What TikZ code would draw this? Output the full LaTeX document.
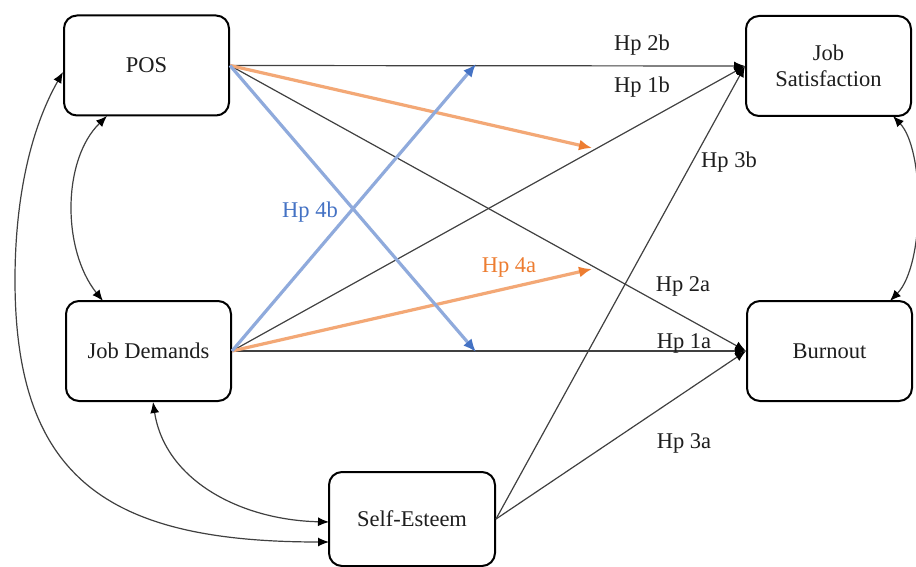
\documentclass[tikz,border=0pt]{standalone}
\usepackage{fontspec}
\setmainfont{Liberation Serif}
\newfontfamily\serifx{Liberation Serif}
\usetikzlibrary{arrows.meta}
\definecolor{ornline}{RGB}{243,168,118}
\definecolor{ornhead}{RGB}{237,125,49}
\definecolor{bluline}{RGB}{143,170,220}
\definecolor{bluhead}{RGB}{68,114,196}
\definecolor{txtgray}{RGB}{30,30,30}
\tikzset{
  var/.style={draw=black, line width=2pt, rounded corners=13pt, minimum width=165pt, minimum height=100pt, align=center, font=\serifx\fontsize{22.5}{26}\selectfont, text=txtgray},
  path/.style={draw=black!75, line width=1.2pt, -{Latex[length=11pt,width=9pt,color=black]}},
  both/.style={draw=black!75, line width=1.2pt, {Latex[length=11pt,width=9pt,color=black]}-{Latex[length=11pt,width=9pt,color=black]}},
  orn/.style={draw=ornline, line width=3.2pt, -{Latex[length=13pt,width=11pt,color=ornhead]}},
  blu/.style={draw=bluline, line width=3.2pt, -{Latex[length=13pt,width=11pt,color=bluhead]}},
  lab/.style={font=\serifx\fontsize{22.5}{26}\selectfont, text=txtgray},
}
\begin{document}
\begin{tikzpicture}[x=1pt,y=-1pt]
\useasboundingbox (0,0) rectangle (916,567);
\fill[white] (0,0) rectangle (916,567);
\node[var] (POS) at (146.5,65.5) {POS};
\node[var] (JD) at (148.5,351) {Job Demands};
\node[var] (JS) at (828.5,66) {Job\\Satisfaction};
\node[var] (BO) at (829.5,351) {Burnout};
\node[var, minimum width=166pt, minimum height=94pt] (SE) at (412,519) {Self-Esteem};
\coordinate (o1) at (592,148);
\coordinate (o2) at (592,269);
\coordinate (b1) at (476,64);
\coordinate (b2) at (476,352);
% black paths
\draw[path] (POS.east) -- (JS.west);
\draw[path] (POS.east) -- (BO.west);
\draw[path] (JD.east) -- (BO.west);
\draw[path] (JD.east) -- (JS.west);
\draw[path] (SE.east) -- (JS.west);
\draw[path] (SE.east) -- (BO.west);
% moderation arrows
\draw[orn] (POS.east) -- (o1);
\draw[orn] (JD.east) -- (o2);
\draw[blu] (POS.east) -- (b2);
\draw[blu] (JD.east) -- (b1);
% covariances
\coordinate (posb) at (107,116);
\coordinate (jdt) at (103,301);
\coordinate (posl) at (63,72);
\coordinate (jdb) at (153,402);
\coordinate (se1) at (329,522);
\coordinate (se2) at (329,542);
\coordinate (jsb) at (893,116);
\coordinate (bot) at (890,301);
\draw[both] (posb) .. controls (62,160) and (62,250) .. (jdt);
\draw[both] (posl) .. controls (30,130) and (15,200) .. (15,280) .. controls (15,480) and (110,542) .. (se2);
\draw[both] (jdb) .. controls (165,480) and (240,520) .. (se1);
\draw[both] (jsb) .. controls (925,150) and (925,265) .. (bot);
% labels
\node[lab] (l2b) at (642,45) {Hp 2b};
\node[lab] (l1b) at (642,87) {Hp 1b};
\node[lab] (l3b) at (729,162) {Hp 3b};
\node[lab, text=bluhead] (l4b) at (310,212) {Hp 4b};
\node[lab, text=ornhead] (l4a) at (509,267) {Hp 4a};
\node[lab] (l2a) at (683,286) {Hp 2a};
\node[lab] (l1a) at (684,343) {Hp 1a};
\node[lab] (l3a) at (684,443) {Hp 3a};
\end{tikzpicture}
\end{document}
